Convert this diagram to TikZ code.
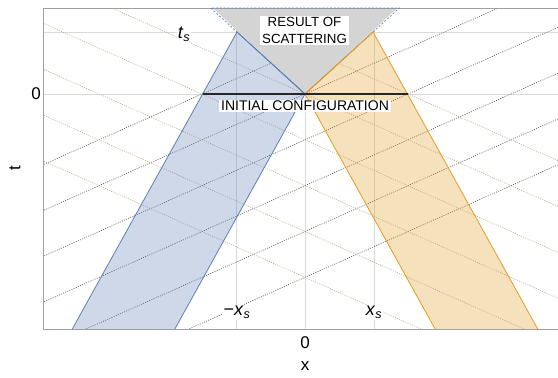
\documentclass[tikz,border=0pt]{standalone}
\usepackage{fontspec}
\setmainfont{Liberation Sans}
\definecolor{mblue}{RGB}{94,129,181}
\definecolor{morange}{RGB}{225,156,36}
\definecolor{framegray}{RGB}{160,160,160}
\definecolor{gridgray}{RGB}{218,218,218}
\definecolor{darkdot}{RGB}{80,80,80}
\definecolor{tandot}{RGB}{190,165,135}
\definecolor{conegray}{RGB}{212,212,212}
\begin{document}
\begin{tikzpicture}[x=1pt,y=-1pt,
  framestyle/.style={draw=framegray,line width=0.8pt},
  gridstyle/.style={draw=gridgray,line width=0.7pt},
  darkdots/.style={draw=darkdot,line width=0.6pt,dash pattern=on 1pt off 1.3pt},
  tandots/.style={draw=tandot,line width=0.6pt,dash pattern=on 1pt off 1.3pt},
  blueband/.style={fill=mblue,fill opacity=0.3,draw=mblue,line width=0.8pt,line join=round},
  orangeband/.style={fill=morange,fill opacity=0.3,draw=morange,line width=0.8pt,line join=round},
  conefill/.style={fill=conegray},
  coneedge/.style={draw=mblue,line width=0.7pt,dash pattern=on 2pt off 1.8pt},
  initline/.style={draw=black!85,line width=1.4pt},
  boxlabel/.style={fill=white,inner xsep=2pt,inner ysep=1.5pt,align=center},
  marklabel/.style={fill=white,inner sep=1pt,font=\fontsize{18}{18}\selectfont},
  ticklabel/.style={inner sep=0pt,font=\fontsize{17}{17}\selectfont},
  axislabel/.style={inner sep=0pt,font=\fontsize{17}{17}\selectfont}
]
\useasboundingbox (0,0) rectangle (558,378);
\fill[white] (0,0) rectangle (558,378);
\begin{scope}
  \clip (43,8) rectangle (558,329);
  % grid lines
  \draw[gridstyle] (43,32) -- (558,32);
  \draw[gridstyle] (43,94) -- (558,94);
  \draw[gridstyle] (236,8) -- (236,329);
  \draw[gridstyle] (305,8) -- (305,329);
  \draw[gridstyle] (374,8) -- (374,329);
  % dotted families
  \foreach \n in {-1,...,4} {
    \draw[darkdots] ({305+103*\n-700},{94+700*0.445}) -- ({305+103*\n+700},{94-700*0.445});
  }
  \foreach \n in {-4,...,1} {
    \draw[tandots] ({305+103*\n-700},{94-700*0.445}) -- ({305+103*\n+700},{94+700*0.445});
  }
  % cone of scattering
  \fill[conefill] (305,94) -- (210.7,6) -- (399.3,6) -- cycle;
  % bands
  \path[blueband] (237,32) -- (305,94) -- (174.6,329.5) -- (72,329.5) -- cycle;
  \path[orangeband] (373,32) -- (305,94) -- (435.4,329.5) -- (538,329.5) -- cycle;
\end{scope}
% frame
\draw[framestyle] (558,8) -- (43,8) -- (43,329) -- (558,329);
% cone outline
\coordinate (apex) at (305,94);
\coordinate (coneL) at (210.7,8);
\coordinate (coneR) at (399.3,8);
\draw[coneedge] (apex) -- (coneL) -- (coneR) -- cycle;
\draw[mblue,line width=0.8pt] (237,32) -- (apex);
\draw[morange,line width=0.8pt] (373,32) -- (apex);
% initial configuration
\coordinate (icL) at (202.5,94);
\coordinate (icR) at (407.5,94);
\draw[initline] (icL) -- (icR);
% labels
\node[boxlabel,font=\fontsize{13.3}{17.5}\selectfont] (result) at (304.5,30.5) {RESULT OF\\SCATTERING};
\node[boxlabel,font=\fontsize{14}{14}\selectfont] (initial) at (305,106) {INITIAL CONFIGURATION};
\node[marklabel] (ts) at (184,34) {\textit{t}\textsubscript{\textit{s}}};
\node[marklabel] (mxs) at (237,312.5) {−\textit{x}\textsubscript{\textit{s}}};
\node[marklabel] (xs) at (374,312.5) {\textit{x}\textsubscript{\textit{s}}};
\node[ticklabel] (t0) at (36,94) {0};
\node[ticklabel] (x0) at (305,343) {0};
\node[axislabel] (xlab) at (305,366) {x};
\node[axislabel,rotate=90] (tlab) at (15,168) {t};
\end{tikzpicture}
\end{document}
